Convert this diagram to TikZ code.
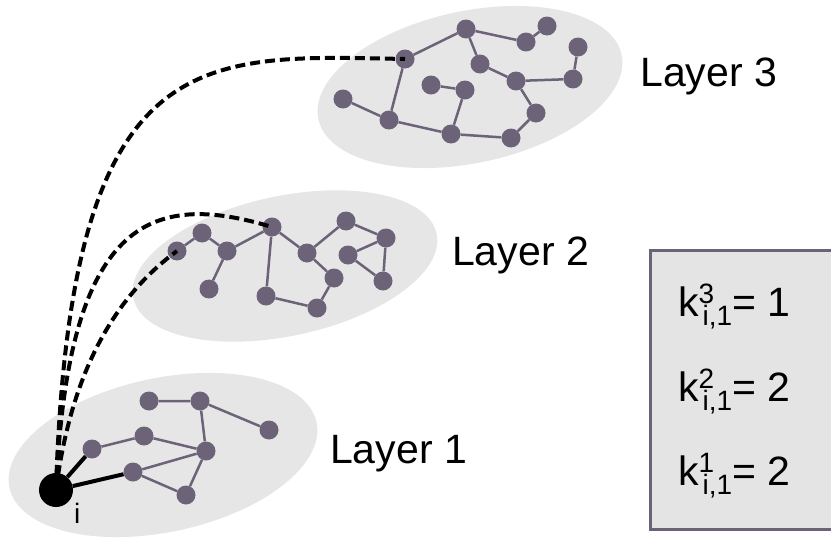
\documentclass[tikz,border=0pt]{standalone}
\usepackage{fontspec}
\setmainfont{Liberation Sans}
\usetikzlibrary{positioning}
\definecolor{vertex}   {HTML}{6D6379}
\definecolor{layerfill}{HTML}{E6E6E6}
\definecolor{boxfill}  {HTML}{E4E4E4}
\tikzset{
  layer/.style    = {fill=layerfill},
  vert/.style     = {circle, fill=vertex, minimum size=19pt, inner sep=0pt},
  seed/.style     = {circle, fill=black, minimum size=34pt, inner sep=0pt},
  link/.style     = {draw=vertex, line width=2.5pt},
  seedlink/.style = {draw=black, line width=4pt},
  hop/.style      = {draw=black, line width=4pt, dash pattern=on 10pt off 5pt},
  lname/.style    = {anchor=base west, inner sep=0pt, font=\fontsize{41}{48}\selectfont},
  small/.style    = {anchor=base west, inner sep=0pt, font=\fontsize{28}{30}\selectfont},
  kbox/.style     = {draw=vertex, line width=3pt, fill=boxfill},
}
\newcommand{\kdeg}[2]{k\rlap{\raisebox{13pt}{\fontsize{28}{30}\selectfont #1}}%
  \kern4pt\raisebox{-9pt}{\fontsize{28}{30}\selectfont i,1}= #2}

\begin{document}
\begin{tikzpicture}[x=1pt, y=-1pt]
  \useasboundingbox (0,0) rectangle (831,538);
  \clip (0,0) rectangle (831,538);

  % layers
  \fill[layer, rotate around={12:(163,455)}] (163,455) ellipse [x radius=157, y radius=77];
  \fill[layer, rotate around={12:(285,266)}] (285,266) ellipse [x radius=155, y radius=70];
  \fill[layer, rotate around={12:(470,87)}]  (470,87)  ellipse [x radius=155, y radius=76];

  % degree box, open to the right
  \draw[kbox] (880,250) -- (650,250) -- (650,529) -- (880,529);

  % layer 1
  \node[seed] (i)  at (56,490)  {};
  \node[vert] (a1) at (92,449)  {};
  \node[vert] (a2) at (144,436) {};
  \node[vert] (a3) at (149,401) {};
  \node[vert] (a4) at (200,401) {};
  \node[vert] (a5) at (269,430) {};
  \node[vert] (a6) at (206,451) {};
  \node[vert] (a7) at (133,472) {};
  \node[vert] (a8) at (186,495) {};
  \draw[seedlink] (i) -- (a1) (i) -- (a7);
  \draw[link] (a1) -- (a2) (a2) -- (a6) (a3) -- (a4) (a4) -- (a5)
              (a4) -- (a6) (a6) -- (a7) (a7) -- (a8) (a8) -- (a6);

  % layer 2
  \node[vert] (b1)  at (177,251) {};
  \node[vert] (b2)  at (202,233) {};
  \node[vert] (b3)  at (227,251) {};
  \node[vert] (b4)  at (209,289) {};
  \node[vert] (b5)  at (272,227) {};
  \node[vert] (b6)  at (266,296) {};
  \node[vert] (b7)  at (307,253) {};
  \node[vert] (b8)  at (334,278) {};
  \node[vert] (b9)  at (317,308) {};
  \node[vert] (b10) at (346,221) {};
  \node[vert] (b11) at (386,238) {};
  \node[vert] (b12) at (348,255) {};
  \node[vert] (b13) at (383,281) {};
  \draw[link] (b1) -- (b2) (b2) -- (b3) (b3) -- (b4) (b3) -- (b5)
              (b5) -- (b6) (b5) -- (b7) (b6) -- (b9) (b9) -- (b8)
              (b8) -- (b7) (b7) -- (b10) (b10) -- (b11) (b11) -- (b12)
              (b12) -- (b13) (b13) -- (b11);

  % layer 3
  \node[vert] (c1)  at (405,59)  {};
  \node[vert] (c2)  at (466,29)  {};
  \node[vert] (c3)  at (526,42)  {};
  \node[vert] (c4)  at (547,26)  {};
  \node[vert] (c5)  at (480,64)  {};
  \node[vert] (c6)  at (516,81)  {};
  \node[vert] (c7)  at (573,79)  {};
  \node[vert] (c8)  at (578,47)  {};
  \node[vert] (c9)  at (536,113) {};
  \node[vert] (c10) at (511,138) {};
  \node[vert] (c11) at (451,134) {};
  \node[vert] (c12) at (389,120) {};
  \node[vert] (c13) at (343,99)  {};
  \node[vert] (c14) at (431,85)  {};
  \node[vert] (c15) at (465,90)  {};
  \draw[link] (c1) -- (c2) (c2) -- (c3) (c3) -- (c4) (c2) -- (c5)
              (c5) -- (c6) (c6) -- (c7) (c7) -- (c8) (c6) -- (c9)
              (c9) -- (c10) (c10) -- (c11) (c11) -- (c12) (c12) -- (c1)
              (c12) -- (c13) (c11) -- (c15) (c15) -- (c14);

  % inter-layer hops from i
  \draw[hop] (i.center) .. controls (70,40) and (200,55) .. (c1.center);
  \draw[hop] (i.center) .. controls (68,220) and (150,190) .. (b5.center);
  \draw[hop] (i.center) .. controls (70,380) and (110,300) .. (b1.center);

  % labels
  \node[small] (ilab) at (74,523) {i};
  \node[lname] (lab1) at (330,463) {Layer 1};
  \node[lname] (lab2) at (452,265) {Layer 2};
  \node[lname] (lab3) at (640,86)  {Layer 3};

  \node[lname] (k3) at (678,316) {\kdeg{3}{1}};
  \node[lname] (k2) at (678,401) {\kdeg{2}{2}};
  \node[lname] (k1) at (678,485) {\kdeg{1}{2}};

\end{tikzpicture}
\end{document}
